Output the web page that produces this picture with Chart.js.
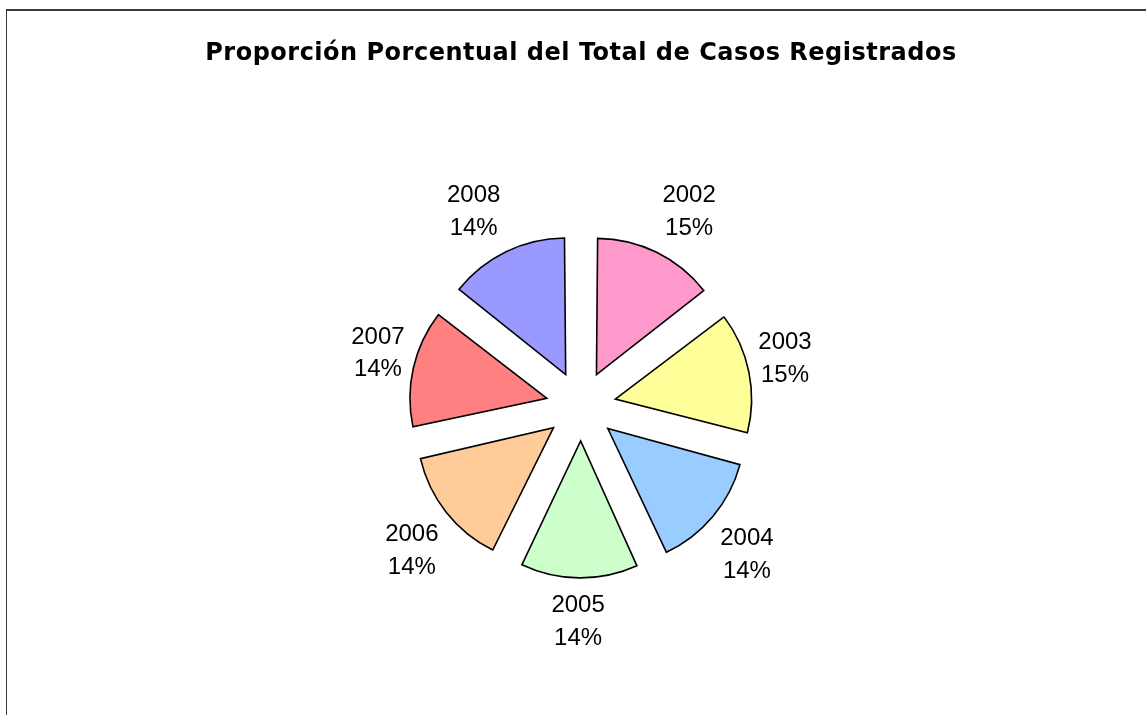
<!DOCTYPE html>
<html>
<head>
<meta charset="utf-8">
<script src="https://cdn.jsdelivr.net/npm/chart.js@4/dist/chart.umd.min.js"></script>
<style>
    html, body { margin: 0; padding: 0; background: #ffffff; }
    #wrap { position: relative; width: 1146px; height: 715px; }
</style>
</head>
<body>
<div id="wrap"><canvas id="pie" width="1146" height="715"></canvas></div>
<script>
// Casos registrados por año
const years = ['2002', '2003', '2004', '2005', '2006', '2007', '2008'];
const cases = [1456, 1454, 1401, 1409, 1431, 1408, 1441];
const sliceColors = ['#FF99CC', '#FFFF99', '#99CCFF', '#CCFFCC', '#FFCC99', '#FF8080', '#9999FF'];

const labelFont = "24px 'Liberation Sans', Arial, sans-serif";

// Outer frame (top and left edges only, like the original export)
const framePlugin = {
    id: 'frame',
    beforeDraw(chart) {
        const ctx = chart.ctx;
        ctx.save();
        ctx.fillStyle = '#ffffff';
        ctx.fillRect(0, 0, chart.width, chart.height);
        ctx.strokeStyle = '#3a3a3a';
        ctx.lineWidth = 2;
        ctx.beginPath();
        ctx.moveTo(6, 10);
        ctx.lineTo(chart.width, 10);
        ctx.stroke();
        ctx.lineWidth = 1;
        ctx.beginPath();
        ctx.moveTo(6.5, 9);
        ctx.lineTo(6.5, chart.height);
        ctx.stroke();
        ctx.restore();
        ctx.letterSpacing = '0.5px';
    },
    beforeDatasetsDraw(chart) {
        chart.ctx.letterSpacing = '0px';
    }
};

// Year + percentage labels outside each slice
const soft = v => Math.max(-1, Math.min(1, v * 4));
const sliceLabels = {
    id: 'sliceLabels',
    afterDatasetsDraw(chart) {
        const ctx = chart.ctx;
        const meta = chart.getDatasetMeta(0);
        const total = cases.reduce((a, b) => a + b, 0);
        ctx.save();
        ctx.font = labelFont;
        ctx.fillStyle = '#000000';
        ctx.textAlign = 'center';
        ctx.textBaseline = 'alphabetic';
        meta.data.forEach((arc, i) => {
            const mid = (arc.startAngle + arc.endAngle) / 2;
            const dx = Math.cos(mid), dy = Math.sin(mid);
            const cx = arc.x + 178 * dx + 29.5 * soft(dx);
            const cy = arc.y + 256 * dy - 42 * dy * Math.abs(dy);
            const pct = Math.round(cases[i] / total * 100) + '%';
            ctx.fillText(years[i], cx, cy - 16.4 + 8.6);
            ctx.fillText(pct, cx, cy + 16.4 + 8.6);
        });
        ctx.restore();
    }
};

new Chart(document.getElementById('pie'), {
    type: 'pie',
    data: {
        labels: years,
        datasets: [{
            data: cases,
            backgroundColor: sliceColors,
            borderColor: '#000000',
            borderWidth: 1.6,
            borderJoinStyle: 'miter',
            offset: 140
        }]
    },
    options: {
        responsive: false,
        animation: false,
        radius: 129,
        layout: { padding: { left: 16, right: 0, top: 0, bottom: 0 } },
        plugins: {
            legend: { display: false },
            tooltip: { enabled: false },
            title: {
                display: true,
                text: 'Proporción Porcentual del Total de Casos Registrados',
                color: '#000000',
                font: { family: "'DejaVu Sans', 'Liberation Sans', sans-serif", size: 24, weight: 'bold', lineHeight: 1.2 },
                padding: { top: 39, bottom: 29.2 }
            }
        }
    },
    plugins: [framePlugin, sliceLabels]
});
</script>
</body>
</html>
